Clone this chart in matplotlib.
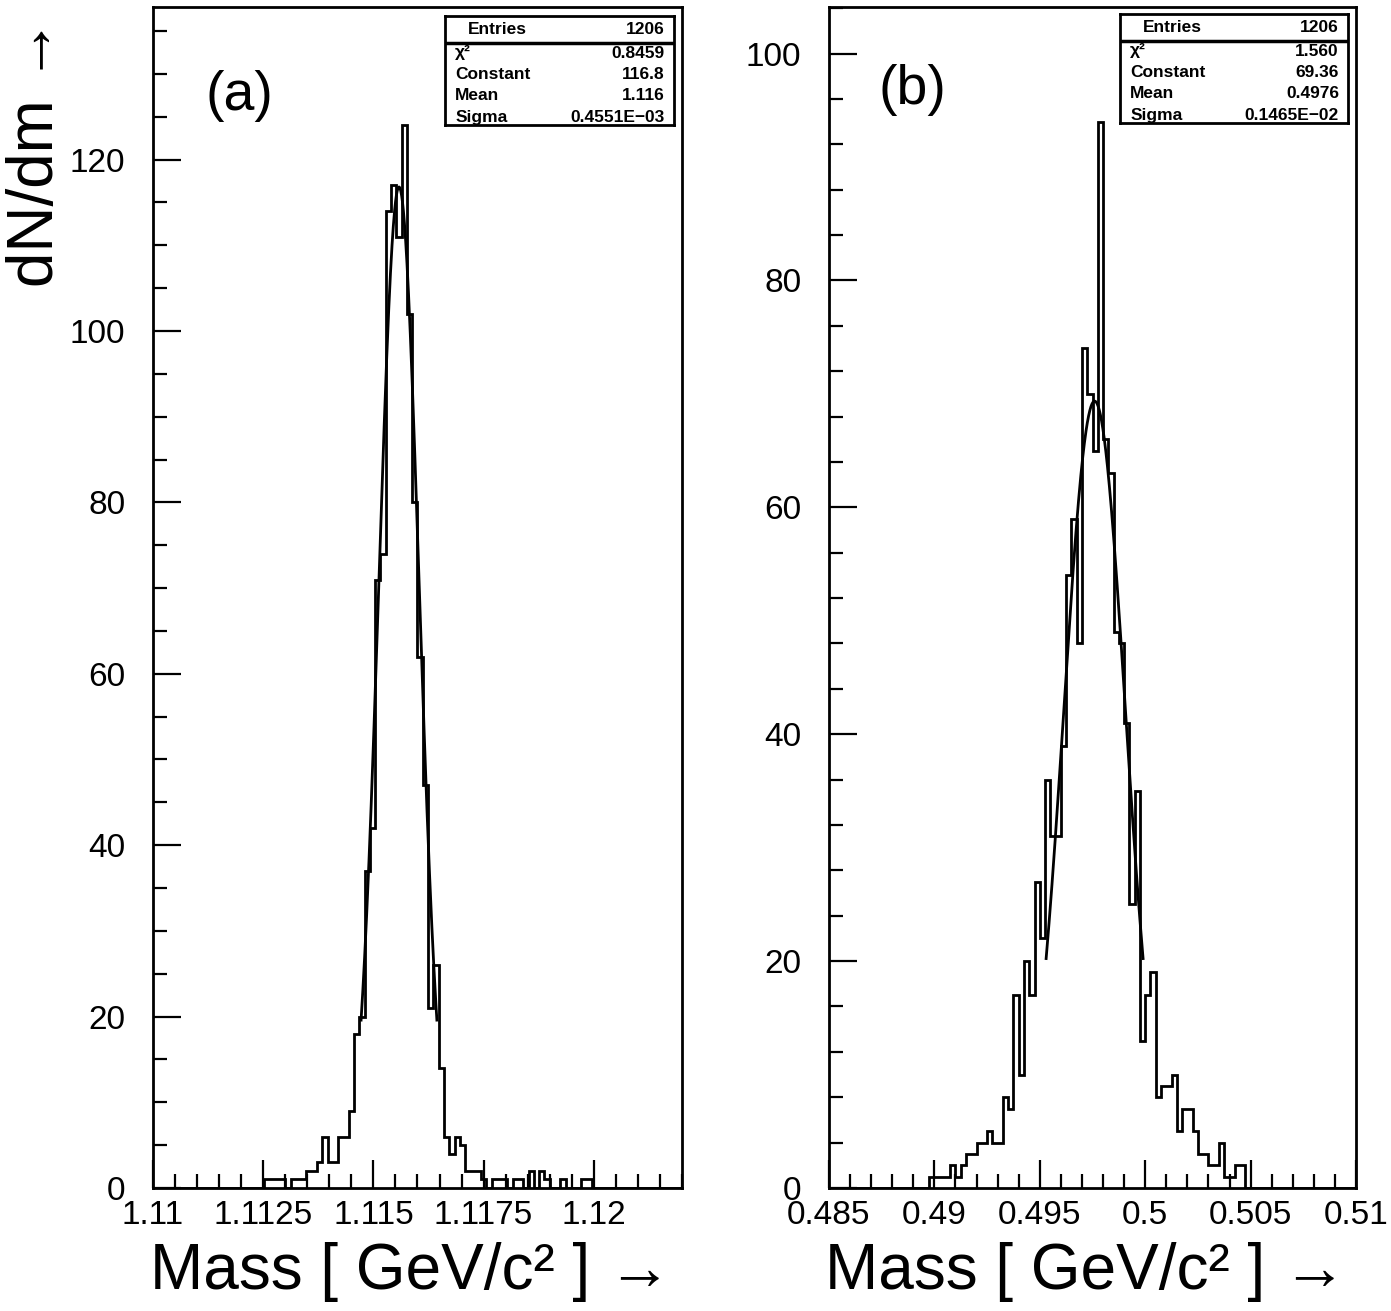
import numpy as np
import matplotlib
matplotlib.use("Agg")
import matplotlib.pyplot as plt
from matplotlib.ticker import MultipleLocator

plt.rcParams['font.family'] = ['Liberation Sans', 'DejaVu Sans']

# ---- panel (a): Lambda mass, 100 bins from 1.110 ----
lam_lo = 1.110
lam_width = 0.00012
lam_counts = [0, 0, 0, 0, 0, 0, 0, 0, 0, 0,
              0, 0, 0, 0, 0, 0, 0, 0, 0, 0,
              0, 1, 1, 1, 1, 0, 1, 1, 1, 2,
              2, 3, 6, 3, 3, 6, 6, 9, 18, 20,
              37, 42, 71, 74, 114, 117, 111, 124, 102, 80,
              62, 47, 21, 26, 14, 6, 4, 6, 5, 2,
              2, 2, 1, 0, 1, 1, 1, 0, 1, 1,
              0, 2, 0, 2, 1, 0, 0, 1, 0, 0,
              0, 1, 1, 0, 0, 0, 0, 0, 0, 0,
              0, 0, 0, 0, 0, 0, 0, 0, 0, 0]
lam_fit = (116.8, 1.11558, 0.4551e-3)      # constant, mean, sigma
lam_fit_range = (1.11472, 1.11644)
lam_xticks = [1.11, 1.1125, 1.115, 1.1175, 1.12]
lam_xlabels = ['1.11', '1.1125', '1.115', '1.1175', '1.12']
lam_yticks = [0, 20, 40, 60, 80, 100, 120]
lam_stats = [('\u03c7\u00b2', '0.8459'), ('Constant', '116.8'),
             ('Mean', '1.116'), ('Sigma', '0.4551E\u221203')]

# ---- panel (b): K0s mass, 100 bins from 0.485 ----
k0_lo = 0.485
k0_width = 0.00025
k0_counts = [0, 0, 0, 0, 0, 0, 0, 0, 0, 0,
             0, 0, 0, 0, 0, 0, 0, 0, 0, 1,
             1, 1, 1, 2, 1, 2, 3, 3, 4, 4,
             5, 4, 4, 8, 7, 17, 10, 20, 17, 27,
             22, 36, 31, 31, 39, 54, 59, 48, 74, 70,
             65, 94, 66, 63, 49, 48, 41, 25, 35, 13,
             17, 19, 8, 9, 9, 10, 5, 7, 7, 5,
             3, 3, 2, 2, 4, 1, 1, 2, 2, 0,
             0, 0, 0, 0, 0, 0, 0, 0, 0, 0,
             0, 0, 0, 0, 0, 0, 0, 0, 0, 0]
k0_fit = (69.36, 0.4976, 0.1465e-2)
k0_fit_range = (0.4953, 0.4999)
k0_xticks = [0.485, 0.49, 0.495, 0.5, 0.505, 0.51]
k0_xlabels = ['0.485', '0.49', '0.495', '0.5', '0.505', '0.51']
k0_yticks = [0, 20, 40, 60, 80, 100]
k0_stats = [('\u03c7\u00b2', '1.560'), ('Constant', '69.36'),
            ('Mean', '0.4976'), ('Sigma', '0.1465E\u221202')]

entries = '1206'

W, H = 1391, 1311
fig = plt.figure(figsize=(W / 100, H / 100), dpi=100)


def rect(x0, y0, x1, y1):
    # pixel box (top-left origin) -> figure fraction
    return [x0 / W, 1 - y1 / H, (x1 - x0) / W, (y1 - y0) / H]


def draw_panel(ax, lo, width, counts, fit, fit_range, xlim, ylim,
               xticks, xlabels, xminor, yticks, yminor, tag, tag_pos):
    edges = lo + width * np.arange(len(counts) + 1)
    ax.stairs(counts, edges, color='black', lw=2.0)
    c, mu, sig = fit
    m = np.linspace(fit_range[0], fit_range[1], 300)
    ax.plot(m, c * np.exp(-0.5 * ((m - mu) / sig) ** 2), color='black', lw=2.0)

    ax.set_xlim(*xlim)
    ax.set_ylim(*ylim)
    ax.set_xticks(xticks)
    ax.set_xticklabels(xlabels)
    ax.set_yticks(yticks)
    ax.xaxis.set_minor_locator(MultipleLocator(xminor))
    ax.yaxis.set_minor_locator(MultipleLocator(yminor))
    ax.tick_params(which='both', direction='in', top=False, right=False,
                   width=1.6, labelsize=24)
    ax.tick_params(which='major', length=20)
    ax.tick_params(which='minor', length=10)
    ax.tick_params(axis='x', pad=9)
    ax.tick_params(axis='y', pad=20)
    for s in ax.spines.values():
        s.set_linewidth(2.0)
    ax.text(tag_pos[0], tag_pos[1], tag, transform=ax.transAxes,
            fontsize=40, ha='center', va='center')


def draw_stats(box, stats):
    sb = fig.add_axes(rect(*box))
    sb.set_xlim(0, 1)
    sb.set_ylim(0, 1)
    sb.set_xticks([])
    sb.set_yticks([])
    for s in sb.spines.values():
        s.set_linewidth(2.0)
    h = box[3] - box[1]
    sep = 1 - 27 / h
    sb.axhline(sep, color='black', lw=2.5)
    font = dict(weight='bold', fontsize=12.5, va='center')
    sb.text(0.1, 1 - 14 / h, 'Entries', ha='left', **font)
    sb.text(0.96, 1 - 14 / h, entries, ha='right', **font)
    for i, (name, val) in enumerate(stats):
        yy = 1 - (37 + 21.5 * i) / h
        sb.text(0.045, yy, name, ha='left', **font)
        sb.text(0.96, yy, val, ha='right', **font)


ax_a = fig.add_axes(rect(153, 7, 682, 1188))
draw_panel(ax_a, lam_lo, lam_width, lam_counts, lam_fit, lam_fit_range,
           (1.11, 1.122), (0, 137.8), lam_xticks, lam_xlabels, 0.0005,
           lam_yticks, 5, '(a)', (0.164, 0.925))
draw_stats((445, 16, 674, 125), lam_stats)

ax_b = fig.add_axes(rect(829, 7, 1356, 1188))
draw_panel(ax_b, k0_lo, k0_width, k0_counts, k0_fit, k0_fit_range,
           (0.485, 0.51), (0, 104.1), k0_xticks, k0_xlabels, 0.001,
           k0_yticks, 4, '(b)', (0.159, 0.93))
draw_stats((1120, 14, 1348, 123), k0_stats)

label_font = dict(fontsize=46)
fig.text(36 / W, 1 - 18 / H, 'dN/dm \u2192', rotation=90,
         ha='center', va='top', **label_font)
fig.text(150 / W, 1 - 1272 / H, 'Mass [ GeV/c\u00b2 ] \u2192',
         ha='left', va='center', **label_font)
fig.text(825 / W, 1 - 1272 / H, 'Mass [ GeV/c\u00b2 ] \u2192',
         ha='left', va='center', **label_font)

fig.savefig('out.png', dpi=100)
